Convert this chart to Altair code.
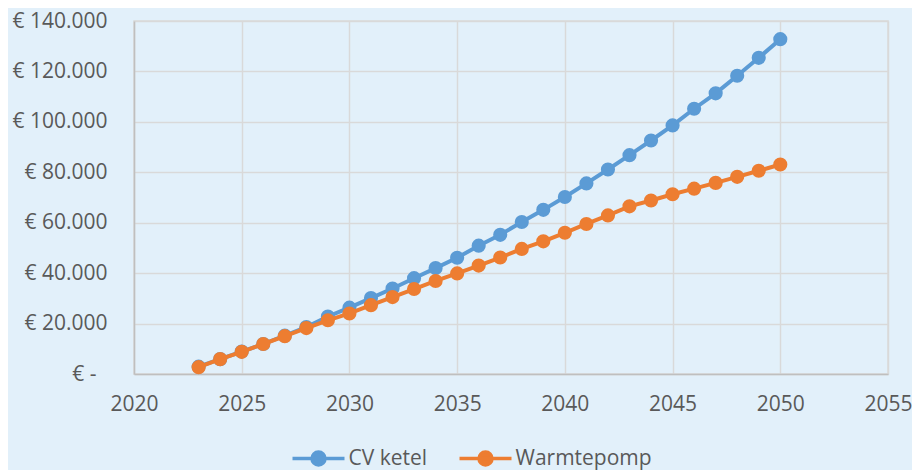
import altair as alt
import pandas as pd

years = list(range(2023, 2051))
cv_ketel = [2900, 5900, 8900, 11900, 15200, 18600, 22800, 26300, 30100, 33900, 38000, 42000,
            46100, 50900, 55200, 60300, 65100, 70200, 75600, 81100, 86800, 92600, 98600,
            105200, 111300, 118300, 125400, 132800]
warmtepomp = [2700, 5900, 8800, 11900, 15000, 18200, 21300, 24000, 27300, 30500, 33700, 36900,
              39900, 43000, 46200, 49600, 52600, 56000, 59500, 62900, 66500, 68800, 71300,
              73500, 75800, 78200, 80600, 83100]
series_names = ["CV ketel", "Warmtepomp"]
series_colors = ["#5B9BD5", "#ED7D31"]
x_ticks = [2020, 2025, 2030, 2035, 2040, 2045, 2050, 2055]
y_ticks = [0, 20000, 40000, 60000, 80000, 100000, 120000, 140000]

rows = []
for y, v in zip(years, cv_ketel):
    rows.append({"jaar": y, "kosten": v, "serie": series_names[0]})
for y, v in zip(years, warmtepomp):
    rows.append({"jaar": y, "kosten": v, "serie": series_names[1]})
df = pd.DataFrame(rows)

FONT = "Open Sans"
TXT = "#595959"
BG = "#E2F0FA"
GRID = "#D9D9D9"

leg = alt.Legend(
    title=None,
    orient="none",
    direction="horizontal",
    legendX=174,
    legendY=427,
    symbolType="M-4,0L4,0M-1,0A1,1,0,1,1,1,0A1,1,0,1,1,-1,0Z",
    symbolSize=169,
    symbolStrokeWidth=3.5,
    labelOffset=19.5,
    columnPadding=24,
    labelFontSize=21,
    labelFont=FONT,
    labelColor=TXT,
    padding=0,
)
scale = alt.Scale(domain=series_names, range=series_colors)
stroke = alt.Stroke("serie:N", scale=scale, legend=leg)
fill = alt.Fill("serie:N", scale=scale, legend=leg)

x = alt.X(
    "jaar:Q",
    scale=alt.Scale(domain=[2020, 2055], nice=False, zero=False),
    axis=alt.Axis(values=x_ticks, format="d", title=None, ticks=False, labelPadding=19,
                  labelFlush=False,
                  domainColor="#BFBFBF", domainWidth=1.5, gridColor=GRID, gridWidth=1.5,
                  labelFontSize=21, labelFont=FONT, labelColor=TXT),
)
y = alt.Y(
    "kosten:Q",
    scale=alt.Scale(domain=[0, 140000], nice=False),
    axis=alt.Axis(values=y_ticks, title=None, ticks=False,
                  labelPadding={"condition": {"test": "datum.value === 0", "value": 38}, "value": 27},
                  labelFlush=False,
                  labelExpr="datum.value == 0 ? '€ -' : '€ ' + replace(format(datum.value, ',.0f'), ',', '.')",
                  domainColor="#BFBFBF", domainWidth=1.5, gridColor=GRID, gridWidth=1.5,
                  labelFontSize=21, labelFont=FONT, labelColor=TXT),
)

layers = []
for name in series_names:
    base = alt.Chart(df).transform_filter(alt.datum.serie == name)
    layers.append(base.mark_line(strokeWidth=4).encode(x=x, y=y, stroke=stroke))
    layers.append(base.mark_circle(size=200, opacity=1, strokeWidth=0).encode(
        x=x, y=y, fill=fill, stroke=stroke))

chart = alt.layer(*layers).properties(
    width=754,
    height=353,
    background=BG,
    padding={"left": 126, "top": 13, "right": 24, "bottom": 96},
    autosize=alt.AutoSizeParams(type="none"),
).configure_view(stroke=GRID, strokeWidth=1.5, fill=BG)

chart.save("out.html", embed_options={"renderer": "svg", "actions": False})
